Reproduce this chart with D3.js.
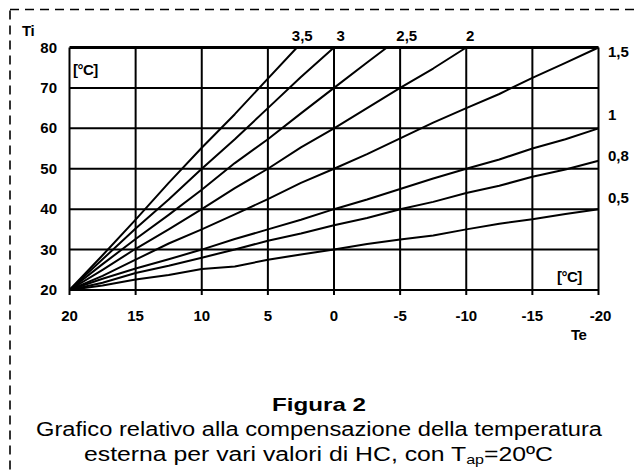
<!DOCTYPE html>
<meta charset="utf-8">
<script src="https://d3js.org/d3.v7.min.js"></script>
<style>
  body { margin: 0; background: #fff; }
  svg text { font-family: "Liberation Sans", Arial, sans-serif; }
</style>
<div id="my_dataviz"></div>
<script>
// outside temperature (Te) ticks and inside temperature (Ti) ticks
var teTicks = [20, 15, 10, 5, 0, -5, -10, -15, -20];
var tiTicks = [20, 30, 40, 50, 60, 70, 80];

// heating curves: [Te, Ti]
var hc35 = [[20,20],[17.5,28.6],[15,37.4],[12.5,46.5],[10,55.2],[7.5,63.5],[5,72.3],[2.8,80],[1.5,80]];
var hc30 = [[20,20],[17.5,27.6],[15,35.2],[12.5,42.4],[10,50],[7.5,57.3],[5,65],[2.5,72.7],[0,80]];
var hc25 = [[20,20],[17.5,26.4],[15,32.6],[12.5,38.6],[10,44.8],[7.5,51.4],[5,57.3],[2.5,63.7],[0,70],[-2.5,76.3],[-4,80]];
var hc20 = [[20,20],[17.5,25],[15,30.2],[12.5,35],[10,40],[7.5,45.2],[5,50],[2.5,55.3],[0,60],[-2.5,65],[-5,70],[-7.5,74.8],[-10,80]];
var hc15 = [[20,20],[17.5,23.5],[15,27.5],[12.5,31.5],[10,35],[7.5,38.7],[5,42.5],[2.5,46.5],[0,50],[-2.5,53.6],[-5,57.5],[-7.5,61.4],[-10,65],[-12.5,68.5],[-15,72.5],[-17.5,76.2],[-20,80]];
var hc10 = [[20,20],[17.5,22.8],[15,25.3],[12.5,27.6],[10,30],[7.5,32.6],[5,35],[2.5,37.4],[0,40],[-2.5,42.4],[-5,45],[-7.5,47.6],[-10,50],[-12.5,52.3],[-15,55],[-17.5,57.3],[-20,60]];
var hc08 = [[20,20],[17.5,21.8],[15,24.2],[12.5,26],[10,28],[7.5,30],[5,32.2],[2.5,34],[0,36],[-2.5,37.8],[-5,40],[-7.5,41.8],[-10,44],[-12.5,45.8],[-15,48],[-17.5,49.8],[-20,52]];
var hc05 = [[20,20],[17.5,21.1],[15,22.6],[12.5,23.7],[10,25.2],[7.5,25.8],[5,27.5],[2.5,28.8],[0,30],[-2.5,31.4],[-5,32.5],[-7.5,33.5],[-10,35],[-12.5,36.4],[-15,37.5],[-17.5,38.8],[-20,40]];

var curves = [hc35, hc30, hc25, hc20, hc15, hc10, hc08, hc05];
// labels above the plot (at Te) and to the right (at Ti)
var topLabels = ["3,5", "3", "2,5", "2"];
var topLabelTe = [2.4, -0.5, -5.5, -10.3];
var rightLabels = ["1,5", "1", "0,8", "0,5"];
var rightLabelTi = [78.9, 63.3, 53.2, 42.8];

var W = 635, H = 474;
var svg = d3.select("#my_dataviz")
  .append("svg")
    .attr("width", W)
    .attr("height", H);

// dashed frame (right and bottom edges fall outside the picture)
svg.append("rect")
  .attr("x", 10).attr("y", 9.5)
  .attr("width", 800).attr("height", 600)
  .attr("fill", "none")
  .attr("stroke", "#000")
  .attr("stroke-width", 1.6)
  .attr("stroke-dasharray", "9,6");

var x = d3.scaleLinear().domain([20, -20]).range([69.5, 598.5]);
var y = d3.scaleLinear().domain([20, 80]).range([290, 47.5]);

// grid
var g = svg.append("g");
g.selectAll(".vg").data(teTicks).enter().append("line")
  .attr("x1", function(d) { return x(d); }).attr("x2", function(d) { return x(d); })
  .attr("y1", y(80)).attr("y2", y(20) + 5)
  .attr("stroke", "#000").attr("stroke-width", 2);
g.selectAll(".hg").data(tiTicks).enter().append("line")
  .attr("x1", x(20)).attr("x2", x(-20))
  .attr("y1", function(d) { return y(d); }).attr("y2", function(d) { return y(d); })
  .attr("stroke", "#000").attr("stroke-width", function(d) { return d == 80 ? 3 : 2; });

// tick labels
g.selectAll(".yl").data(tiTicks).enter().append("text")
  .attr("x", 57).attr("y", function(d) { return y(d) + 5; })
  .attr("text-anchor", "end")
  .style("font-size", "15px").style("font-weight", "bold")
  .text(function(d) { return d; });
g.selectAll(".xl").data(teTicks).enter().append("text")
  .attr("x", function(d) { return x(d) + (d == -20 ? 2 : 0); }).attr("y", 321)
  .attr("text-anchor", "middle")
  .style("font-size", "15px").style("font-weight", "bold")
  .text(function(d) { return d; });

// curves
var line = d3.line()
  .x(function(d) { return x(d[0]); })
  .y(function(d) { return y(d[1]); });
svg.append("g").selectAll("path").data(curves).enter().append("path")
  .attr("d", line)
  .attr("fill", "none")
  .attr("stroke", "#000")
  .attr("stroke-width", 2)
  .attr("stroke-linejoin", "round");

svg.selectAll(".tl").data(topLabels).enter().append("text")
  .attr("x", function(d, i) { return x(topLabelTe[i]); }).attr("y", 41)
  .attr("text-anchor", "middle")
  .style("font-size", "15px").style("font-weight", "bold")
  .text(function(d) { return d; });
svg.selectAll(".rl").data(rightLabels).enter().append("text")
  .attr("x", 608).attr("y", function(d, i) { return y(rightLabelTi[i]) + 5; })
  .style("font-size", "15px").style("font-weight", "bold")
  .text(function(d) { return d; });

// axis names and units
function bold(txt, px, py) {
  svg.append("text").attr("x", px).attr("y", py)
    .style("font-size", "15px").style("font-weight", "bold")
    .style("letter-spacing", "-0.5px")
    .text(txt);
}
bold("Ti", 22, 36);
bold("Te", 571, 340);
bold("[\u00b0C]", 73, 75);
bold("[\u00b0C]", 557, 282);

// caption (the original type is a bit wider than Arial)
svg.append("text").attr("x", 272).attr("y", 411)
  .attr("textLength", 94).attr("lengthAdjust", "spacingAndGlyphs")
  .style("font-size", "19px").style("font-weight", "bold")
  .text("Figura 2");
svg.append("text").attr("x", 36).attr("y", 436)
  .attr("textLength", 566).attr("lengthAdjust", "spacingAndGlyphs")
  .style("font-size", "20px")
  .text("Grafico relativo alla compensazione della temperatura");
var cap = svg.append("text").attr("x", 84).attr("y", 461)
  .attr("textLength", 469).attr("lengthAdjust", "spacingAndGlyphs")
  .style("font-size", "20px");
cap.append("tspan").text("esterna per vari valori di HC, con T");
cap.append("tspan").attr("dy", 3).style("font-size", "13px").text("ap");
cap.append("tspan").attr("dy", -3).text("=20\u00baC");
</script>
